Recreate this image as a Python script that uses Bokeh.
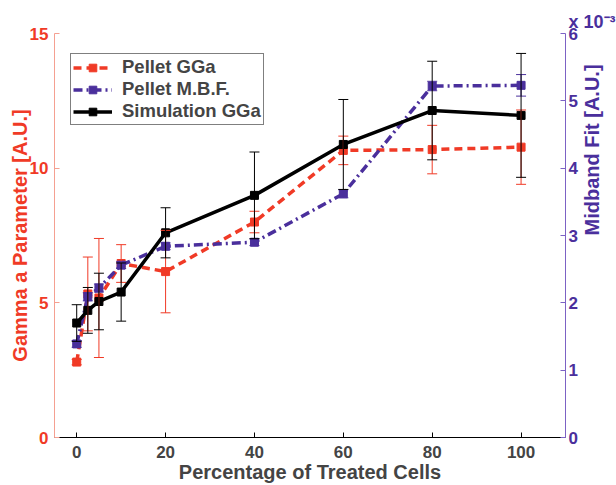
import math
from bokeh.plotting import figure
from bokeh.models import (Range1d, LinearAxis, FixedTicker, ColumnDataSource, Whisker,
                          TeeHead, Legend, LegendItem, Title)
from bokeh.embed import file_html
from bokeh.resources import INLINE

# ---- data ----
pct_treated = [0, 2.5, 5, 10, 20, 40, 60, 80, 100]
pellet_gga = [2.8, 5.33, 5.18, 6.46, 6.16, 8.0, 10.66, 10.69, 10.78]
pellet_gga_err = [0.1, 1.37, 2.21, 0.70, 1.53, 0.40, 0.53, 0.90, 1.38]
pellet_mbf_e3 = [1.39, 2.09, 2.22, 2.56, 2.84, 2.90, 3.62, 5.22, 5.23]   # x 10^-3
pellet_mbf_err_e3 = [0.05, 0.06, 0.06, 0.05, 0.05, 0.05, 0.06, 0.07, 0.16]
sim_gga = [4.25, 4.72, 5.05, 5.40, 7.60, 8.99, 10.88, 12.14, 11.96]
sim_gga_err = [0.68, 0.85, 1.05, 1.08, 0.93, 1.61, 1.67, 1.83, 2.30]
x_ticks = [0, 20, 40, 60, 80, 100]
left_ticks = [0, 5, 10, 15]
right_ticks = [0, 1, 2, 3, 4, 5, 6]

RED = "#f03a26"
RED_AX = "#f5a091"
PURPLE = "#4a2f9c"
PURPLE_AX = "#7c62c4"
FONT = "Liberation Sans"

p = figure(width=616, height=485, output_backend="svg", toolbar_location=None,
           x_range=Range1d(-5, 110), y_range=Range1d(0, 15),
           min_border_left=54, min_border_right=50, min_border_top=33, min_border_bottom=48)
p.extra_y_ranges = {"mbf": Range1d(0, 6)}
p.grid.visible = False
p.outline_line_color = None
p.background_fill_color = "white"

# axes
p.xaxis.ticker = FixedTicker(ticks=x_ticks)
p.xaxis.axis_label = "Percentage of Treated Cells"
p.yaxis.ticker = FixedTicker(ticks=left_ticks)
p.yaxis.axis_label = "Gamma a Parameter [A.U.]"
for ax in (p.xaxis[0], p.yaxis[0]):
    ax.major_tick_in = 5
    ax.major_tick_out = 0
    ax.minor_tick_line_color = None
    ax.major_label_text_font = FONT
    ax.major_label_text_font_style = "bold"
    ax.major_label_text_font_size = "17px"
    ax.axis_label_text_font = FONT
    ax.axis_label_text_font_style = "bold"
    ax.axis_label_text_font_size = "20px"
p.xaxis.major_label_standoff = 8
p.xaxis.axis_label_standoff = 0
p.yaxis.major_label_standoff = 6
p.yaxis.axis_label_standoff = -4
p.xaxis.axis_line_color = "black"
p.xaxis.major_tick_line_color = "black"
p.yaxis.axis_line_color = RED_AX
p.yaxis.major_tick_line_color = RED_AX
p.yaxis.major_label_text_color = RED
p.yaxis.axis_label_text_color = RED

rax = LinearAxis(y_range_name="mbf", ticker=FixedTicker(ticks=right_ticks),
                 axis_label="Midband Fit [A.U.]")
rax.major_tick_in = 5
rax.major_tick_out = 0
rax.minor_tick_line_color = None
rax.axis_line_color = PURPLE_AX
rax.major_tick_line_color = PURPLE_AX
rax.major_label_text_color = PURPLE
rax.major_label_text_font = FONT
rax.major_label_text_font_style = "bold"
rax.major_label_text_font_size = "17px"
rax.major_label_standoff = 3
rax.axis_label_text_color = PURPLE
rax.axis_label_text_font = FONT
rax.axis_label_text_font_style = "bold"
rax.axis_label_text_font_size = "20px"
rax.axis_label_standoff = 11
if "axis_label_orientation" in rax.properties():
    rax.axis_label_orientation = math.pi / 2
p.add_layout(rax, "right")

# exponent of the right axis
p.add_layout(Title(text="x 10\u207b\u00b3", align="left", offset=514, standoff=4,
                   text_color=PURPLE, text_font=FONT, text_font_style="bold",
                   text_font_size="18px"), "above")

# sources
src_gga = ColumnDataSource(dict(x=pct_treated, y=pellet_gga,
                                lo=[v - e for v, e in zip(pellet_gga, pellet_gga_err)],
                                hi=[v + e for v, e in zip(pellet_gga, pellet_gga_err)]))
src_mbf = ColumnDataSource(dict(x=pct_treated, y=pellet_mbf_e3,
                                lo=[v - e for v, e in zip(pellet_mbf_e3, pellet_mbf_err_e3)],
                                hi=[v + e for v, e in zip(pellet_mbf_e3, pellet_mbf_err_e3)]))
src_sim = ColumnDataSource(dict(x=pct_treated, y=sim_gga,
                                lo=[v - e for v, e in zip(sim_gga, sim_gga_err)],
                                hi=[v + e for v, e in zip(sim_gga, sim_gga_err)]))

def add_whisker(src, color, yname="default"):
    w = Whisker(source=src, base="x", lower="lo", upper="hi", line_color=color, line_width=1,
                upper_head=TeeHead(size=10, line_color=color, line_width=1),
                lower_head=TeeHead(size=10, line_color=color, line_width=1),
                y_range_name=yname, level="glyph")
    p.add_layout(w)

add_whisker(src_gga, RED)
l_gga = p.line("x", "y", source=src_gga, line_color=RED, line_width=3.5, line_dash="8 5")
m_gga = p.scatter("x", "y", source=src_gga, marker="square", size=8, fill_color=RED, line_color=RED)

add_whisker(src_mbf, PURPLE, "mbf")
l_mbf = p.line("x", "y", source=src_mbf, y_range_name="mbf", line_color=PURPLE, line_width=3.5,
               line_dash="9 4 2 4")
m_mbf = p.scatter("x", "y", source=src_mbf, y_range_name="mbf", marker="square", size=8,
                  fill_color=PURPLE, line_color=PURPLE)

add_whisker(src_sim, "black")
l_sim = p.line("x", "y", source=src_sim, line_color="black", line_width=3.5)
m_sim = p.scatter("x", "y", source=src_sim, marker="square", size=8, fill_color="black", line_color="black")

legend = Legend(items=[LegendItem(label="Pellet GGa", renderers=[l_gga, m_gga]),
                       LegendItem(label="Pellet M.B.F.", renderers=[l_mbf, m_mbf]),
                       LegendItem(label="Simulation GGa", renderers=[l_sim, m_sim])],
                location=(16, 312), padding=2, spacing=0, margin=0,
                glyph_width=39, glyph_height=19, label_height=19, label_standoff=10,
                label_text_font=FONT, label_text_font_style="bold", label_text_font_size="18.5px",
                border_line_color="black", border_line_width=1.5, background_fill_alpha=1)
p.add_layout(legend)

open("out.html", "w").write(file_html(p, INLINE))
